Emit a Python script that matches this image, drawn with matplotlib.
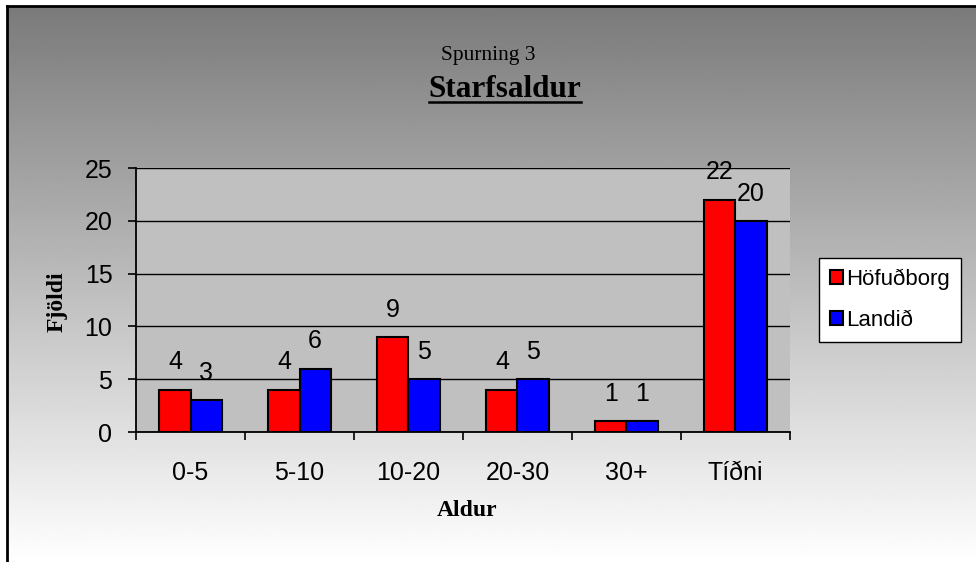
import numpy as np
import matplotlib
matplotlib.use("Agg")
import matplotlib.pyplot as plt
from matplotlib.lines import Line2D

# ------------------------------
# data

categories = ["0-5", "5-10", "10-20", "20-30", "30+", "Tíðni"]
hofudborg = [4, 4, 9, 4, 1, 22]
landid = [3, 6, 5, 5, 1, 20]

W, H = 976, 562

plt.rcParams['font.family'] = ['Liberation Sans', 'DejaVu Sans']

fig = plt.figure(figsize=(W / 100, H / 100), dpi=100, facecolor='white')

# gray-to-white chart background with black frame on top/left
bg = fig.add_axes([7 / W, 0, 1 - 7 / W, 1 - 6 / H])
grad = np.linspace(0.48, 1.0, 256).reshape(-1, 1)
bg.imshow(grad, cmap='gray', vmin=0, vmax=1, aspect='auto', extent=[0, 1, 0, 1], origin='upper')
bg.set_xlim(0, 1)
bg.set_ylim(0, 1)
bg.set_xticks([])
bg.set_yticks([])
for s in ['right', 'bottom']:
    bg.spines[s].set_visible(False)
for s in ['left', 'top']:
    bg.spines[s].set_linewidth(2)
    bg.spines[s].set_color('black')

# plot area
ax = fig.add_axes([136 / W, 1 - 432 / H, (790 - 136) / W, (432 - 168) / H])
ax.set_facecolor('#C0C0C0')

x = np.arange(len(categories))
w = 0.285
b1 = ax.bar(x - w / 2, hofudborg, w, color='#FF0000', edgecolor='black', linewidth=1.5,
            label='Höfuðborg', zorder=3)
b2 = ax.bar(x + w / 2, landid, w, color='#0000FF', edgecolor='black', linewidth=1.5,
            label='Landið', zorder=3)

for bars, vals in [(b1, hofudborg), (b2, landid)]:
    for r, v in zip(bars, vals):
        ax.annotate(str(v), (r.get_x() + r.get_width() / 2, v), xytext=(0, 11),
                    textcoords='offset points', ha='center', va='bottom', fontsize=18)

ax.set_xlim(-0.5, len(categories) - 0.5)
ax.set_ylim(0, 25)
ax.set_yticks([0, 5, 10, 15, 20, 25])
ax.yaxis.grid(True, color='black', linewidth=1, zorder=1)
ax.set_axisbelow(True)

ax.set_xticks(x)
ax.set_xticklabels(categories)
ax.set_xticks(np.arange(len(categories) + 1) - 0.5, minor=True)
ax.tick_params(axis='x', which='major', length=0, pad=21, labelsize=18)
ax.tick_params(axis='x', which='minor', length=6, width=1.2, direction='out')
ax.tick_params(axis='y', length=6, width=1.2, direction='out', pad=11, labelsize=18)

for s in ['top', 'right']:
    ax.spines[s].set_visible(False)
for s in ['left', 'bottom']:
    ax.spines[s].set_linewidth(1.3)

# legend
leg = ax.legend(loc='center', bbox_to_anchor=(890 / W, 1 - 300 / H), bbox_transform=fig.transFigure,
                fontsize=16, frameon=True, fancybox=False, edgecolor='black', facecolor='white',
                framealpha=1, handlelength=0.6, handleheight=0.6, handletextpad=0.15,
                labelspacing=0.9, borderpad=0.5, borderaxespad=0)
leg.get_frame().set_linewidth(1)

# titles
fig.text(488 / W, 1 - 60 / H, "Spurning 3", family='Liberation Serif', fontsize=15.5,
         ha='center', va='baseline')
t2 = fig.text(505 / W, 1 - 97 / H, "Starfsaldur", family='Liberation Serif', fontsize=22.5,
              fontweight='bold', ha='center', va='baseline')
fig.text(57 / W, 1 - 302 / H, "Fjöldi", family='Liberation Serif', fontsize=17,
         fontweight='bold', rotation=90, ha='center', va='center')
fig.text(467 / W, 1 - 511 / H, "Aldur", family='Liberation Serif', fontsize=17,
         fontweight='bold', ha='center', va='center')

# underline for the main title
fig.canvas.draw()
bb = t2.get_window_extent()
uy = 1 - 102 / H
fig.add_artist(Line2D([bb.x0 / W, bb.x1 / W], [uy, uy], color='black', linewidth=1.8,
                      transform=fig.transFigure))

fig.savefig("out.png", dpi=100)
